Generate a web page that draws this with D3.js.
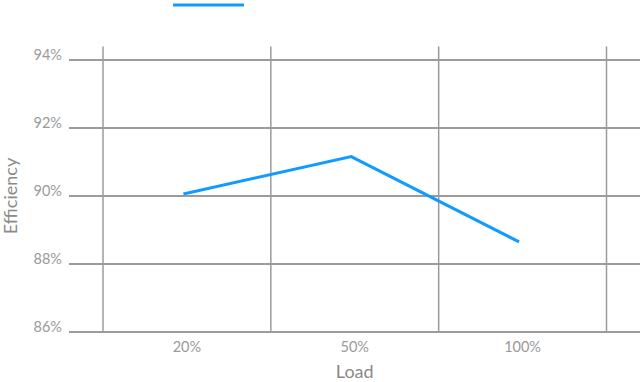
<!DOCTYPE html>
<html><head><meta charset="utf-8">
<script src="https://cdn.jsdelivr.net/npm/d3@7"></script>
<style>html,body{margin:0;padding:0;background:#fff;}svg{display:block;}</style>
</head><body>
<script>
const categories = ["20%", "50%", "100%"];
const efficiency = [90.06, 91.16, 88.65];
const yTicks = [86, 88, 90, 92, 94];

const W = 640, H = 382;
const mLeft = 103, mRight = 606.5, mTop = 60, mBottom = 332;
const svg = d3.select("body").append("svg").attr("width", W).attr("height", H);

const x = d3.scaleBand().domain(categories).range([mLeft, mRight]);
const y = d3.scaleLinear().domain([86, 94]).range([mBottom, mTop]);
const grid = "#9b9b9b", txt = "#9a9a9a", font = "Lato, 'Open Sans', sans-serif";

// horizontal gridlines
svg.append("g").selectAll("line").data(yTicks).join("line")
  .attr("x1", 69).attr("x2", W).attr("y1", d => y(d)).attr("y2", d => y(d))
  .attr("stroke", grid).attr("stroke-width", 1.8);
// vertical gridlines at band boundaries
const bounds = categories.map(c => x(c)).concat([x(categories[categories.length-1]) + x.bandwidth()]);
svg.append("g").selectAll("line").data(bounds).join("line")
  .attr("x1", d => d).attr("x2", d => d).attr("y1", 46.5).attr("y2", mBottom)
  .attr("stroke", grid).attr("stroke-width", 1.5);

// y tick labels
svg.append("g").selectAll("text").data(yTicks).join("text")
  .attr("x", 62).attr("y", d => y(d)).attr("text-anchor", "end")
  .attr("font-family", font).attr("font-size", 14.5).attr("fill", txt)
  .text(d => d + "%");
// x tick labels
svg.append("g").selectAll("text").data(categories).join("text")
  .attr("x", d => x(d) + x.bandwidth()/2).attr("y", 352).attr("text-anchor", "middle")
  .attr("font-family", font).attr("font-size", 14.5).attr("fill", txt)
  .text(d => d);
// axis titles
svg.append("text").attr("x", (mLeft+mRight)/2).attr("y", 377.5).attr("text-anchor", "middle")
  .attr("font-family", font).attr("font-size", 18).attr("fill", "#8a8a8a").text("Load");
svg.append("text").attr("transform", `translate(16.5,${(mTop+mBottom)/2}) rotate(-90)`)
  .attr("text-anchor", "middle").attr("font-family", font).attr("font-size", 18)
  .attr("fill", "#8a8a8a").text("Efficiency");

// line
const pts = categories.map((c, i) => [x(c) + x.bandwidth()/2 - 3.5, y(efficiency[i])]);
svg.append("path").attr("d", d3.line()(pts)).attr("fill", "none")
  .attr("stroke", "#0f9bff").attr("stroke-width", 3).attr("stroke-linejoin", "miter");

// legend swatch
svg.append("line").attr("x1", 173).attr("x2", 244).attr("y1", 5).attr("y2", 5)
  .attr("stroke", "#0f9bff").attr("stroke-width", 3);
</script>
</body></html>
